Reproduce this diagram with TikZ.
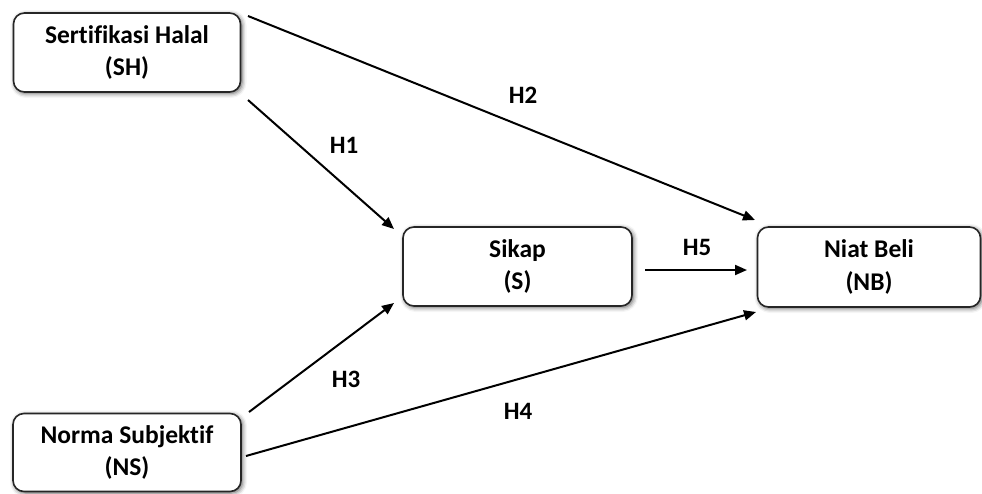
\documentclass[tikz,border=0pt]{standalone}
\usepackage{fontspec}
\setmainfont[Ligatures=NoCommon]{Carlito}
\usetikzlibrary{arrows.meta,shadows.blur}

\tikzset{
  construct/.style={draw=black!85, line width=1.6pt, rounded corners=11pt,
    fill=white, align=center, inner sep=0pt,
    font=\fontsize{25.5}{32.5}\selectfont\bfseries,
    blur shadow={shadow xshift=1.5pt, shadow yshift=-1.5pt,
      shadow blur radius=4.5pt, shadow opacity=65}},
  path/.style={line width=2pt, -{Triangle[length=12pt,width=10pt]}},
  hyp/.style={font=\fontsize{25}{28}\selectfont\bfseries}
}

\begin{document}
\begin{tikzpicture}[x=1pt,y=-1pt]
  \useasboundingbox (0,0) rectangle (982,493);

  % latent constructs
  \node[construct, minimum width=227pt, minimum height=79pt] (SH) at (127,52.5) {Sertifikasi Halal\\(SH)};
  \node[construct, minimum width=228pt, minimum height=78pt] (NS) at (127,452.5) {Norma Subjektif\\(NS)};
  \node[construct, minimum width=229pt, minimum height=79pt] (S) at (517.5,266.5) {Sikap\\(S)};
  \node[construct, minimum width=223pt, minimum height=80pt] (NB) at (869,267) {Niat Beli\\(NB)};

  % arrow end points
  \coordinate (h1a) at (248,100);  \coordinate (h1b) at (394,229);
  \coordinate (h2a) at (248,16);   \coordinate (h2b) at (755,220);
  \coordinate (h3a) at (249,412);  \coordinate (h3b) at (394,303);
  \coordinate (h4a) at (246,456);  \coordinate (h4b) at (756,312);
  \coordinate (h5a) at (645,270);  \coordinate (h5b) at (747,270);

  % hypothesised paths
  \draw[path] (h1a) -- (h1b);
  \draw[path] (h2a) -- (h2b);
  \draw[path] (h3a) -- (h3b);
  \draw[path] (h4a) -- (h4b);
  \draw[path] (h5a) -- (h5b);

  % path labels
  \node[hyp] (l1) at (344,145) {H1};
  \node[hyp] (l2) at (523,95) {H2};
  \node[hyp] (l3) at (346,379) {H3};
  \node[hyp] (l4) at (518,411) {H4};
  \node[hyp] (l5) at (697,247) {H5};
\end{tikzpicture}
\end{document}
